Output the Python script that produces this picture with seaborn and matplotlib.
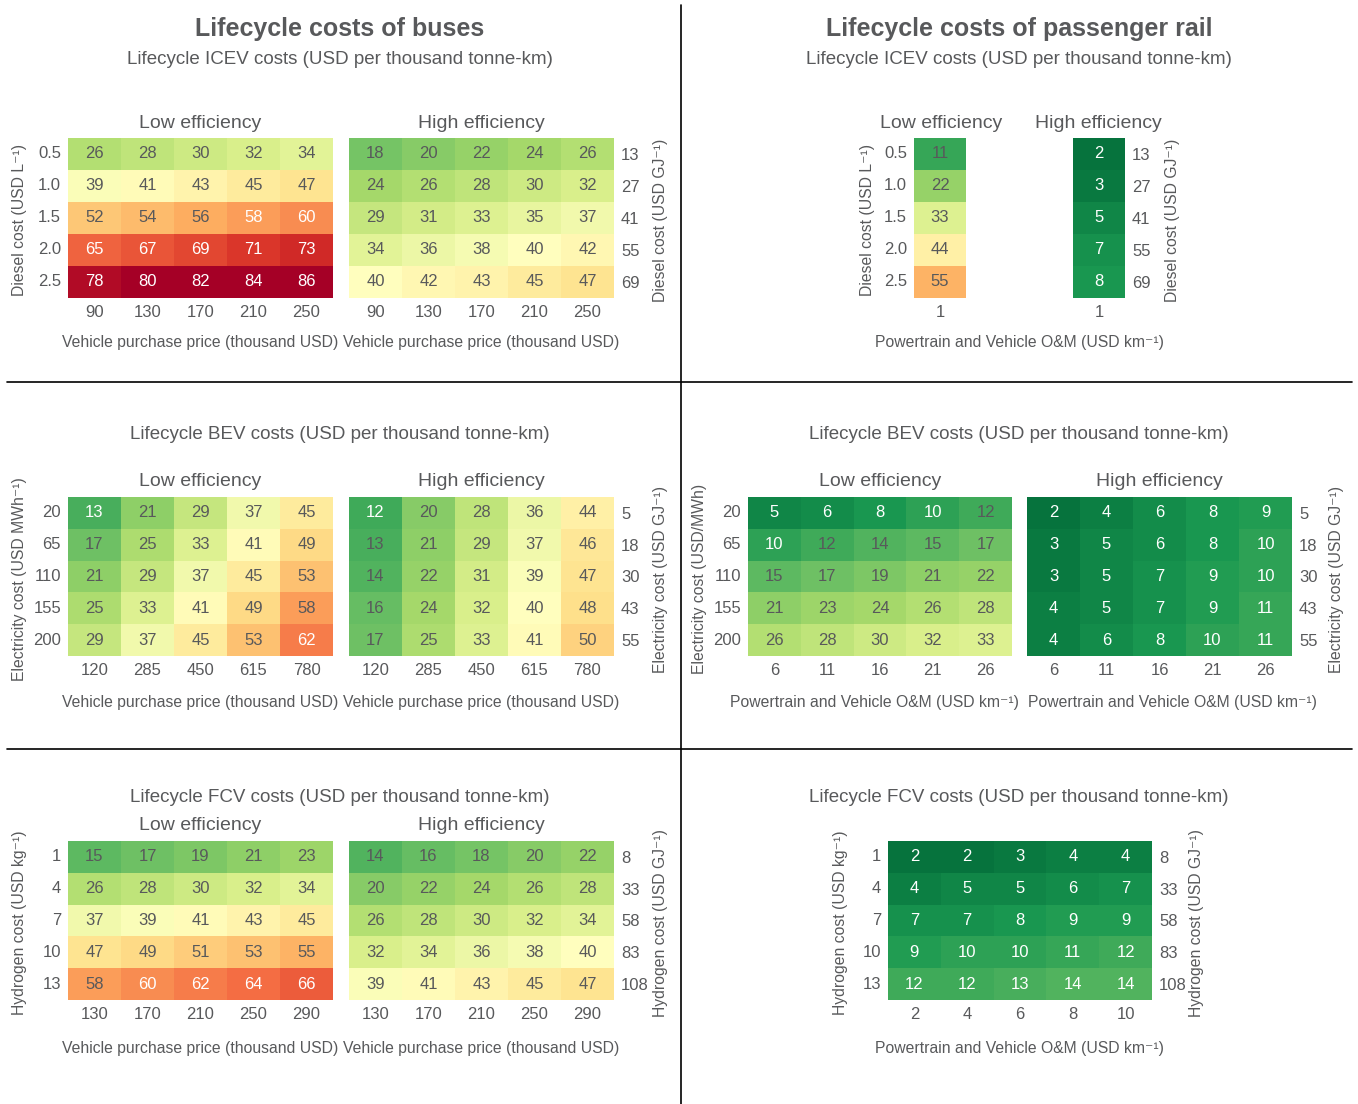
import numpy as np
import matplotlib
matplotlib.use("Agg")
import matplotlib.pyplot as plt
from matplotlib.lines import Line2D
from matplotlib.colors import Normalize
import seaborn as sns

# --- Data ---
diesel_l = ["0.5", "1.0", "1.5", "2.0", "2.5"]
diesel_gj = ["13", "27", "41", "55", "69"]
bus_icev_price = ["90", "130", "170", "210", "250"]
bus_icev_low = [[26, 28, 30, 32, 34], [39, 41, 43, 45, 47], [52, 54, 56, 58, 60],
                [65, 67, 69, 71, 73], [78, 80, 82, 84, 86]]
bus_icev_high = [[18, 20, 22, 24, 26], [24, 26, 28, 30, 32], [29, 31, 33, 35, 37],
                 [34, 36, 38, 40, 42], [40, 42, 43, 45, 47]]

rail_icev_om = ["1"]
rail_icev_low = [[11], [22], [33], [44], [55]]
rail_icev_high = [[2], [3], [5], [7], [8]]

elec_mwh = ["20", "65", "110", "155", "200"]
elec_gj = ["5", "18", "30", "43", "55"]
bus_bev_price = ["120", "285", "450", "615", "780"]
bus_bev_low = [[13, 21, 29, 37, 45], [17, 25, 33, 41, 49], [21, 29, 37, 45, 53],
               [25, 33, 41, 49, 58], [29, 37, 45, 53, 62]]
bus_bev_high = [[12, 20, 28, 36, 44], [13, 21, 29, 37, 46], [14, 22, 31, 39, 47],
                [16, 24, 32, 40, 48], [17, 25, 33, 41, 50]]

rail_bev_om = ["6", "11", "16", "21", "26"]
rail_bev_low = [[5, 6, 8, 10, 12], [10, 12, 14, 15, 17], [15, 17, 19, 21, 22],
                [21, 23, 24, 26, 28], [26, 28, 30, 32, 33]]
rail_bev_high = [[2, 4, 6, 8, 9], [3, 5, 6, 8, 10], [3, 5, 7, 9, 10],
                 [4, 5, 7, 9, 11], [4, 6, 8, 10, 11]]

h2_kg = ["1", "4", "7", "10", "13"]
h2_gj = ["8", "33", "58", "83", "108"]
bus_fcv_price = ["130", "170", "210", "250", "290"]
bus_fcv_low = [[15, 17, 19, 21, 23], [26, 28, 30, 32, 34], [37, 39, 41, 43, 45],
               [47, 49, 51, 53, 55], [58, 60, 62, 64, 66]]
bus_fcv_high = [[14, 16, 18, 20, 22], [20, 22, 24, 26, 28], [26, 28, 30, 32, 34],
                [32, 34, 36, 38, 40], [39, 41, 43, 45, 47]]

rail_fcv_om = ["2", "4", "6", "8", "10"]
rail_fcv = [[2, 2, 3, 4, 4], [4, 5, 5, 6, 7], [7, 7, 8, 9, 9],
            [9, 10, 10, 11, 12], [12, 12, 13, 14, 14]]

# --- Style ---
sns.set_style("white")
plt.rcParams["font.family"] = ["Liberation Sans", "DejaVu Sans"]
GREY = "#58595b"
W, H = 1358, 1104
fig = plt.figure(figsize=(W / 100, H / 100), dpi=100)
fig.patch.set_facecolor("white")
norm = Normalize(vmin=0, vmax=80)

TITLE, SUB, EFF, LAB, TICK = 18, 13.5, 14, 11.3, 12


def px_axes(x0, y0, x1, y1):
    return fig.add_axes([x0 / W, 1 - y1 / H, (x1 - x0) / W, (y1 - y0) / H])


def ftext(x, y, s, **kw):
    kw.setdefault("color", GREY)
    kw.setdefault("ha", "center")
    kw.setdefault("va", "center")
    fig.text(x / W, 1 - (y + 2) / H, s, **kw)


def heat(box, values, xticks, yticks=None, rticks=None, white_max=10, white_min=60):
    ax = px_axes(*box)
    arr = np.array(values)
    sns.heatmap(arr, ax=ax, cmap="RdYlGn_r", norm=norm, cbar=False,
                annot=True, fmt="d", annot_kws={"fontsize": TICK},
                xticklabels=xticks, yticklabels=yticks if yticks else False)
    # label colour: white on the darkest cells, grey elsewhere
    for t, v in zip(ax.texts, arr.flatten()):
        t.set_color("white" if (v <= white_max or v >= white_min) else GREY)
    ax.tick_params(length=0, labelsize=TICK, labelcolor=GREY, pad=5)
    plt.setp(ax.get_yticklabels(), rotation=0)
    if rticks:
        ax2 = ax.twinx()
        ax2.set_ylim(ax.get_ylim())
        ax2.set_yticks(np.arange(len(rticks)) + 0.5)
        ax2.set_yticklabels(rticks)
        ax2.tick_params(length=0, labelsize=TICK, labelcolor=GREY, pad=5)
        for s in ax2.spines.values():
            s.set_visible(False)
    return ax


PRICE = "Vehicle purchase price (thousand USD)"
OM = "Powertrain and Vehicle O&M (USD km⁻¹)"
SUB_ICEV = "Lifecycle ICEV costs (USD per thousand tonne-km)"
SUB_BEV = "Lifecycle BEV costs (USD per thousand tonne-km)"
SUB_FCV = "Lifecycle FCV costs (USD per thousand tonne-km)"

# --- Top-left: buses ICEV ---
ftext(340, 27, "Lifecycle costs of buses", fontsize=TITLE, fontweight="bold")
ftext(340, 58, SUB_ICEV, fontsize=SUB)
ftext(200, 121, "Low efficiency", fontsize=EFF)
ftext(481, 121, "High efficiency", fontsize=EFF)
heat((68, 138, 333, 298), bus_icev_low, bus_icev_price, diesel_l, white_min=58)
heat((349, 138, 614, 298), bus_icev_high, bus_icev_price, None, diesel_gj)
ftext(20, 218, "Diesel cost (USD L⁻¹)", fontsize=LAB, rotation=90)
ftext(660, 218, "Diesel cost (USD GJ⁻¹)", fontsize=LAB, rotation=90)
ftext(200, 341, PRICE, fontsize=LAB)
ftext(481, 341, PRICE, fontsize=LAB)

# --- Top-right: rail ICEV ---
ftext(1019, 27, "Lifecycle costs of passenger rail", fontsize=TITLE, fontweight="bold")
ftext(1019, 58, SUB_ICEV, fontsize=SUB)
ftext(941, 121, "Low efficiency", fontsize=EFF)
ftext(1098, 121, "High efficiency", fontsize=EFF)
heat((914, 138, 966, 298), rail_icev_low, rail_icev_om, diesel_l)
heat((1073, 138, 1125, 298), rail_icev_high, rail_icev_om, None, diesel_gj)
ftext(868, 218, "Diesel cost (USD L⁻¹)", fontsize=LAB, rotation=90)
ftext(1172, 218, "Diesel cost (USD GJ⁻¹)", fontsize=LAB, rotation=90)
ftext(1019, 341, OM, fontsize=LAB)

# --- Middle-left: buses BEV ---
ftext(340, 432, SUB_BEV, fontsize=SUB)
ftext(200, 480, "Low efficiency", fontsize=EFF)
ftext(481, 480, "High efficiency", fontsize=EFF)
heat((68, 497, 333, 656), bus_bev_low, bus_bev_price, elec_mwh, white_max=13)
heat((349, 497, 614, 656), bus_bev_high, bus_bev_price, None, elec_gj, white_max=12)
ftext(20, 577, "Electricity cost (USD MWh⁻¹)", fontsize=LAB, rotation=90)
ftext(660, 577, "Electricity cost (USD GJ⁻¹)", fontsize=LAB, rotation=90)
ftext(200, 700, PRICE, fontsize=LAB)
ftext(481, 700, PRICE, fontsize=LAB)

# --- Middle-right: rail BEV ---
ftext(1019, 432, SUB_BEV, fontsize=SUB)
ftext(880, 480, "Low efficiency", fontsize=EFF)
ftext(1159, 480, "High efficiency", fontsize=EFF)
heat((748, 497, 1012, 656), rail_bev_low, rail_bev_om, elec_mwh)
heat((1027, 497, 1292, 656), rail_bev_high, rail_bev_om, None, elec_gj, white_max=11)
ftext(700, 577, "Electricity cost (USD/MWh)", fontsize=LAB, rotation=90)
ftext(1337, 577, "Electricity cost (USD GJ⁻¹)", fontsize=LAB, rotation=90)
ftext(874, 700, OM, fontsize=LAB)
ftext(1172, 700, OM, fontsize=LAB)

# --- Bottom-left: buses FCV ---
ftext(340, 795, SUB_FCV, fontsize=SUB)
ftext(200, 824, "Low efficiency", fontsize=EFF)
ftext(481, 824, "High efficiency", fontsize=EFF)
heat((68, 841, 333, 1000), bus_fcv_low, bus_fcv_price, h2_kg)
heat((349, 841, 614, 1000), bus_fcv_high, bus_fcv_price, None, h2_gj)
ftext(20, 921, "Hydrogen cost (USD kg⁻¹)", fontsize=LAB, rotation=90)
ftext(660, 921, "Hydrogen cost (USD GJ⁻¹)", fontsize=LAB, rotation=90)
ftext(200, 1046, PRICE, fontsize=LAB)
ftext(481, 1046, PRICE, fontsize=LAB)

# --- Bottom-right: rail FCV ---
ftext(1019, 795, SUB_FCV, fontsize=SUB)
heat((888, 841, 1152, 1000), rail_fcv, rail_fcv_om, h2_kg, h2_gj, white_max=14)
ftext(840, 921, "Hydrogen cost (USD kg⁻¹)", fontsize=LAB, rotation=90)
ftext(1196, 921, "Hydrogen cost (USD GJ⁻¹)", fontsize=LAB, rotation=90)
ftext(1019, 1046, OM, fontsize=LAB)

# --- Divider lines ---
fig.add_artist(Line2D([681 / W, 681 / W], [1 - 5 / H, 0], color="black", lw=1.2))
for yy in (382, 749):
    fig.add_artist(Line2D([7 / W, 1352 / W], [1 - yy / H, 1 - yy / H], color="black", lw=1.2))

fig.savefig("out.png", dpi=100, facecolor="white")
